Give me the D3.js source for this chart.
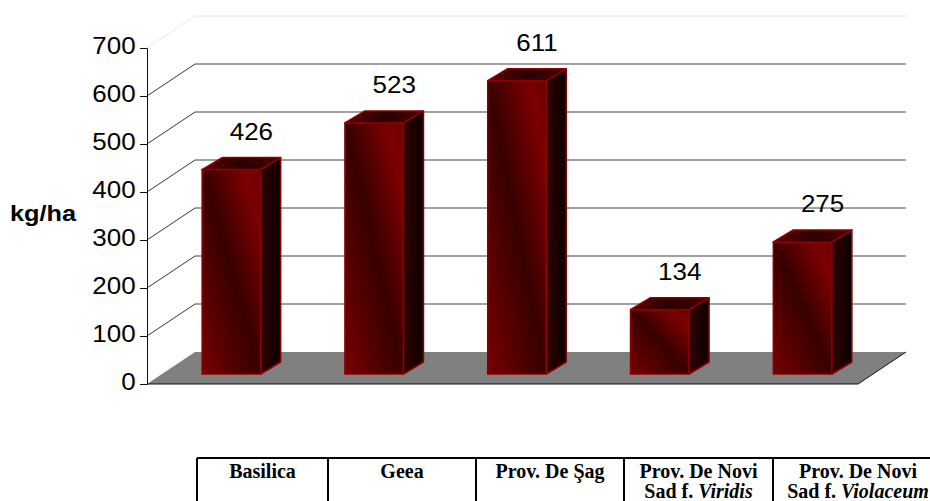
<!DOCTYPE html>
<html>
<head>
<meta charset="utf-8">
<script src="https://cdn.jsdelivr.net/npm/d3@7"></script>
<style>
  body { margin: 0; background: #fff; }
  svg { display: block; }
</style>
</head>
<body>
<div class="canvas"></div>
<script>
var categories = ["Basilica", "Geea", "Prov. De Şag", "Prov. De Novi Sad f. Viridis", "Prov. De Novi Sad f. Violaceum"];
var values = [426, 523, 611, 134, 275];
var yTicks = [0, 100, 200, 300, 400, 500, 600, 700];
var tableLine1 = ["Basilica", "Geea", "Prov. De Şag", "Prov. De Novi", "Prov. De Novi"];
var tableLine2 = ["", "", "", "Sad f. ", "Sad f. "];
var tableLine2Italic = ["", "", "", "Viridis", "Violaceum"];

var width = 930, height = 501;

// 3d offsets
var depthX = 48, depthY = 32;      // floor / back wall depth
var planeX = 15, planeY = 10;      // where the bars stand
var barDX = 20, barDY = 12;        // bar depth
var stretch = 1.13;                // the original text is a bit wide

var svg = d3.select(".canvas")
  .append("svg")
  .attr("width", width)
  .attr("height", height);

var defs = svg.append("defs");

var gFront = defs.append("linearGradient")
  .attr("id", "front")
  .attr("x1", 0).attr("y1", 1).attr("x2", 1).attr("y2", 0);
gFront.append("stop").attr("offset", "0%").attr("stop-color", "#780000");
gFront.append("stop").attr("offset", "50%").attr("stop-color", "#380000");
gFront.append("stop").attr("offset", "85%").attr("stop-color", "#7c0000");
gFront.append("stop").attr("offset", "100%").attr("stop-color", "#680000");

var gSide = defs.append("linearGradient")
  .attr("id", "side")
  .attr("x1", 0).attr("y1", 0).attr("x2", 1).attr("y2", 0);
gSide.append("stop").attr("offset", "0%").attr("stop-color", "#300000");
gSide.append("stop").attr("offset", "100%").attr("stop-color", "#0c0000");

var gTop = defs.append("linearGradient")
  .attr("id", "top")
  .attr("x1", 0).attr("y1", 0).attr("x2", 1).attr("y2", 0);
gTop.append("stop").attr("offset", "0%").attr("stop-color", "#5e0000");
gTop.append("stop").attr("offset", "50%").attr("stop-color", "#2a0000");
gTop.append("stop").attr("offset", "100%").attr("stop-color", "#4a0000");

var y = d3.scaleLinear().domain([0, 700]).range([384, 48]);
var floorLeft = 147, floorRight = 858;

var x = d3.scaleBand()
  .domain(categories)
  .range([160, 874])
  .paddingInner(0.59)
  .paddingOuter(0.295);

// back wall grid
var grid = svg.append("g");
grid.selectAll(".diag")
  .data(yTicks.filter(function(d) { return d > 0; }))
  .enter()
  .append("line")
  .attr("x1", floorLeft)
  .attr("y1", function(d) { return y(d); })
  .attr("x2", floorLeft + depthX)
  .attr("y2", function(d) { return y(d) - depthY; })
  .attr("stroke", function(d) { return d === 700 ? "#ddd" : "#333"; })
  .attr("stroke-dasharray", function(d) { return d === 700 ? "2,1" : null; });
grid.selectAll(".hline")
  .data(yTicks.filter(function(d) { return d > 0; }))
  .enter()
  .append("line")
  .attr("x1", floorLeft + depthX)
  .attr("y1", function(d) { return y(d) - depthY; })
  .attr("x2", floorRight + depthX)
  .attr("y2", function(d) { return y(d) - depthY; })
  .attr("stroke", function(d) { return d === 700 ? "#e6e6e6" : "#444"; });

// floor
var y0 = y(0);
svg.append("path")
  .attr("d", "M" + floorLeft + "," + y0 +
    "L" + floorRight + "," + y0 +
    "L" + (floorRight + depthX) + "," + (y0 - depthY) +
    "L" + (floorLeft + depthX) + "," + (y0 - depthY) + "Z")
  .attr("fill", "#808080");
svg.append("path")
  .attr("d", "M" + floorLeft + "," + y0 +
    "L" + floorRight + "," + y0 +
    "L" + (floorRight + depthX) + "," + (y0 - depthY))
  .attr("fill", "none")
  .attr("stroke", "#111");

// axis
var axis = svg.append("g")
  .attr("transform", "translate(" + floorLeft + ",0)")
  .call(d3.axisLeft(y).tickValues(yTicks).tickSize(7).tickPadding(3).tickFormat(d3.format("d")));
axis.select(".domain").attr("stroke", "#111");
axis.selectAll(".tick line").attr("stroke", "#111");
axis.selectAll(".tick text")
  .attr("font-family", "Liberation Sans, Arial, sans-serif")
  .attr("font-size", 23)
  .attr("fill", "#000")
  .attr("dy", "0.25em")
  .attr("transform", "scale(" + stretch + ",1)");

svg.append("text")
  .attr("transform", "translate(10,221) scale(1.15,1)")
  .attr("font-family", "Liberation Sans, Arial, sans-serif")
  .attr("font-weight", "bold")
  .attr("font-size", 22)
  .text("kg/ha");

// bars
var bw = x.bandwidth();
var bars = svg.selectAll(".bar")
  .data(values)
  .enter()
  .append("g")
  .attr("class", "bar");

function bx(i) { return x(categories[i]); }
function base() { return y0 - planeY; }
function topY(d) { return y(d) - planeY; }

bars.append("rect")
  .attr("x", function(d, i) { return bx(i); })
  .attr("y", function(d) { return topY(d); })
  .attr("width", bw)
  .attr("height", function(d) { return base() - topY(d); })
  .attr("fill", "url(#front)")
  .attr("stroke", "#8b0000")
  .attr("stroke-width", 1.5);

bars.append("path")
  .attr("d", function(d, i) {
    var x0 = bx(i) + bw, t = topY(d), b = base();
    return "M" + x0 + "," + t + "L" + (x0 + barDX) + "," + (t - barDY) +
      "L" + (x0 + barDX) + "," + (b - barDY) + "L" + x0 + "," + b + "Z";
  })
  .attr("fill", "url(#side)")
  .attr("stroke", "#8b0000")
  .attr("stroke-width", 1.5)
  .attr("stroke-linejoin", "round");

bars.append("path")
  .attr("d", function(d, i) {
    var x0 = bx(i), t = topY(d);
    return "M" + x0 + "," + t + "L" + (x0 + bw) + "," + t +
      "L" + (x0 + bw + barDX) + "," + (t - barDY) +
      "L" + (x0 + barDX) + "," + (t - barDY) + "Z";
  })
  .attr("fill", "url(#top)")
  .attr("stroke", "#8b0000")
  .attr("stroke-width", 1.5)
  .attr("stroke-linejoin", "round");

bars.append("text")
  .attr("transform", function(d, i) {
    return "translate(" + (bx(i) + barDX + bw / 2) + "," + (topY(d) - barDY - 18) + ") scale(" + stretch + ",1)";
  })
  .attr("text-anchor", "middle")
  .attr("font-family", "Liberation Sans, Arial, sans-serif")
  .attr("font-size", 23)
  .text(function(d) { return d; });

// table below
var tableCols = [197, 328, 476, 624, 773, 943];
var tableTop = 458;
var table = svg.append("g");
table.append("line")
  .attr("x1", tableCols[0]).attr("x2", width)
  .attr("y1", tableTop).attr("y2", tableTop)
  .attr("stroke", "#000").attr("stroke-width", 2);
table.selectAll(".vcol")
  .data(tableCols)
  .enter()
  .append("line")
  .attr("x1", function(d) { return d; })
  .attr("x2", function(d) { return d; })
  .attr("y1", tableTop).attr("y2", height)
  .attr("stroke", "#000").attr("stroke-width", 2);

var cells = table.selectAll(".cell")
  .data(tableLine1)
  .enter()
  .append("text")
  .attr("text-anchor", "middle")
  .attr("font-family", "Liberation Serif, Times New Roman, serif")
  .attr("font-weight", "bold")
  .attr("font-size", 20);

cells.append("tspan")
  .attr("x", function(d, i) { return (tableCols[i] + tableCols[i + 1]) / 2; })
  .attr("y", 478)
  .text(function(d) { return d; });

cells.each(function(d, i) {
  if (tableLine2[i] === "") return;
  d3.select(this).append("tspan")
    .attr("x", (tableCols[i] + tableCols[i + 1]) / 2)
    .attr("y", 498)
    .text(tableLine2[i]);
  d3.select(this).append("tspan")
    .attr("font-style", "italic")
    .text(tableLine2Italic[i]);
});
</script>
</body>
</html>
